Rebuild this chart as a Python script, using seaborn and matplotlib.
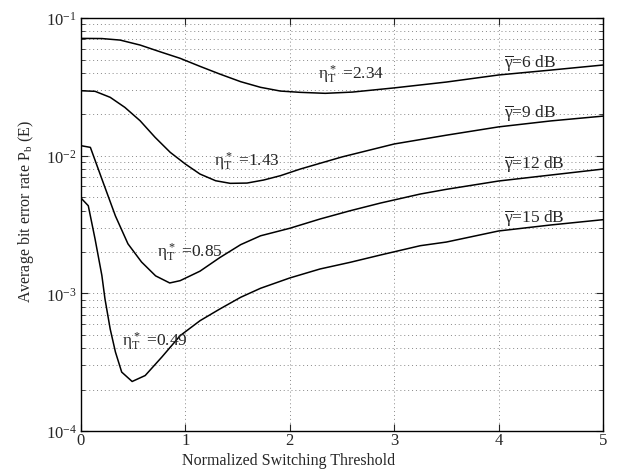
import numpy as np
import pandas as pd
import matplotlib
matplotlib.use("Agg")
import matplotlib.pyplot as plt
import matplotlib.ticker as mticker
import seaborn as sns

# values (threshold, bit error rate)
x_6db = [0.0, 0.2, 0.375, 0.566, 0.758, 0.95, 1.14, 1.33, 1.53, 1.72, 1.91, 2.1, 2.34,
         2.6, 3.0, 3.5, 4.0, 4.5, 5.0]
ber_6db = [0.0712, 0.0710, 0.0692, 0.0637, 0.0569, 0.0510, 0.0446, 0.0392, 0.0345, 0.0314,
           0.0295, 0.02887, 0.0284, 0.0290, 0.0311, 0.0343, 0.0386, 0.0419, 0.0456]

x_9db = [0.0, 0.135, 0.28, 0.42, 0.566, 0.71, 0.855, 1.0, 1.14, 1.29, 1.43, 1.59, 1.75,
         1.91, 2.1, 2.29, 2.5, 3.0, 3.5, 4.0, 4.5, 5.0]
ber_9db = [0.02965, 0.02937, 0.02656, 0.02246, 0.01796, 0.01360, 0.01058, 0.00870, 0.00736,
           0.00658, 0.00630, 0.00633, 0.00666, 0.00716, 0.00800, 0.00881, 0.0098, 0.01217,
           0.0141, 0.0162, 0.0179, 0.0194]

x_12db = [0.0, 0.09, 0.2, 0.33, 0.45, 0.58, 0.715, 0.85, 0.95, 1.14, 1.33, 1.53, 1.72, 2.0,
          2.29, 2.58, 2.87, 3.25, 3.5, 4.0, 4.5, 5.0]
ber_12db = [0.01183, 0.0115, 0.00678, 0.00365, 0.00229, 0.00169, 0.00134, 0.00119,
            0.001237, 0.00145, 0.00182, 0.00226, 0.00262, 0.002971, 0.00347, 0.003987,
            0.004533, 0.005269, 0.0057, 0.00655, 0.00724, 0.0080]

x_15db = [0.0, 0.07, 0.135, 0.2, 0.23, 0.28, 0.33, 0.39, 0.49, 0.615, 0.775, 0.95, 1.14,
          1.33, 1.53, 1.72, 2.0, 2.29, 2.58, 2.87, 3.25, 3.5, 4.0, 4.5, 5.0]
ber_15db = [0.00493, 0.00433, 0.00248, 0.00135, 0.00091, 0.00055, 0.000375, 0.000268,
            0.000229, 0.000253, 0.000345, 0.000493, 0.000633, 0.00077, 0.000937, 0.001089,
            0.001294, 0.001504, 0.001682, 0.001901, 0.00222, 0.00236, 0.00284, 0.00314,
            0.00343]

snr_labels = [r"$\overline{\gamma}$=6 dB", r"$\overline{\gamma}$=9 dB",
              r"$\overline{\gamma}$=12 dB", r"$\overline{\gamma}$=15 dB"]
snr_label_pos = [(4.05, 0.0448), (4.05, 0.0194), (4.05, 0.00828), (4.05, 0.00336)]

opt_labels = [r"$\eta_T^*$ =2.34", r"$\eta_T^*$ =1.43", r"$\eta_T^*$ =0.85", r"$\eta_T^*$ =0.49"]
opt_label_pos = [(2.27, 0.0361), (1.27, 0.0084), (0.73, 0.00184), (0.39, 0.000415)]

sns.set_style("ticks")
plt.rcParams["font.family"] = ["Liberation Serif", "DejaVu Serif"]
plt.rcParams["mathtext.fontset"] = "custom"
plt.rcParams["mathtext.rm"] = "Liberation Serif"
plt.rcParams["mathtext.it"] = "Liberation Serif"
plt.rcParams["mathtext.bf"] = "Liberation Serif:bold"

fig = plt.figure(figsize=(6.21, 4.77), dpi=100)
ax = fig.add_axes([0.1304, 0.0943, 0.8406, 0.8657])

curves = [(x_6db, ber_6db), (x_9db, ber_9db), (x_12db, ber_12db), (x_15db, ber_15db)]
for xs, ys in curves:
    df = pd.DataFrame({"x": xs, "ber": ys})
    sns.lineplot(data=df, x="x", y="ber", ax=ax, color="black", linewidth=1.1)

ax.set_yscale("log")
ax.set_xlim(0, 5)
ax.set_ylim(1e-4, 1e-1)
ax.xaxis.set_major_locator(mticker.MultipleLocator(1))
ax.yaxis.set_major_locator(mticker.LogLocator(base=10, numticks=10))
ax.yaxis.set_minor_locator(mticker.LogLocator(base=10, subs=np.arange(2, 10), numticks=10))
ax.yaxis.set_minor_formatter(mticker.NullFormatter())

grid_style = dict(linestyle=(0, (1, 3)), color="#888888", linewidth=0.7)
ax.grid(True, which="major", **grid_style)
ax.grid(True, which="minor", axis="y", **grid_style)
ax.tick_params(which="both", direction="in", top=True, right=True, labelsize=12)
ax.tick_params(axis="x", pad=1)
ax.tick_params(axis="y", pad=3)
ax.tick_params(which="major", length=5)
ax.tick_params(which="minor", length=3)
for sp in ax.spines.values():
    sp.set_linewidth(1.0)
    sp.set_color("black")

ax.set_xlabel("Normalized Switching Threshold", fontsize=11.5)
ax.set_ylabel(r"Average bit error rate P$_\mathrm{b}$ (E)", fontsize=11.5)
ax.xaxis.set_label_coords(0.397, -0.05)
ax.yaxis.set_label_coords(-0.086, 0.535)

for txt, (tx, ty) in zip(snr_labels, snr_label_pos):
    ax.text(tx, ty, txt, fontsize=12.5, ha="left", va="baseline")
for txt, (tx, ty) in zip(opt_labels, opt_label_pos):
    ax.text(tx, ty, txt, fontsize=12.5, ha="left", va="baseline")

fig.savefig("out.png", dpi=100)
